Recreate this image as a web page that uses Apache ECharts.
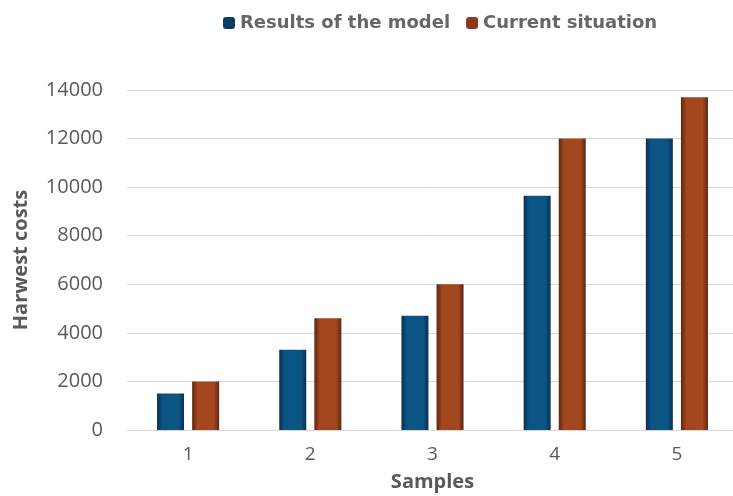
<!DOCTYPE html>
<html><head><meta charset="utf-8">
<script src="https://cdn.jsdelivr.net/npm/echarts@6/dist/echarts.min.js"></script>
<style>html,body{margin:0;padding:0;background:#fff}#c{width:733px;height:496px}</style>
</head><body><div id="c"></div>
<script>
const categories = ['1','2','3','4','5'];
const modelValues = [1500, 3300, 4700, 9650, 12000];
const currentValues = [2000, 4600, 6000, 12000, 13700];
const seriesNames = ['Results of the model', 'Current situation'];
const yTicks = {min: 0, max: 14000, interval: 2000};

function grad(edge, mid) {
  return new echarts.graphic.LinearGradient(0, 0, 1, 0, [
    {offset: 0, color: edge}, {offset: 0.2, color: mid}, {offset: 0.8, color: mid}, {offset: 1, color: edge}
  ]);
}
const font = '"Open Sans", "Noto Sans", sans-serif';
const chart = echarts.init(document.getElementById('c'));
chart.setOption({
  animation: false,
  textStyle: {fontFamily: font},
  legend: {
    top: 9, left: 218, itemWidth: 12, itemHeight: 12, itemGap: 16, itemTextGap: 4,
    textStyle: {fontSize: 18, fontWeight: 'bold', color: '#666666', fontFamily: '"DejaVu Sans", sans-serif'},
    data: [
      {name: seriesNames[0], itemStyle: {color: '#0b3d63'}},
      {name: seriesNames[1], itemStyle: {color: '#8a3a1a'}}
    ]
  },
  grid: {left: 127, right: -5, top: 90, bottom: 66, outerBoundsMode: 'none', containLabel: false},
  xAxis: {
    type: 'category', data: categories,
    name: 'Samples', nameLocation: 'middle', nameGap: 42,
    nameTextStyle: {fontSize: 20, fontWeight: 'bold', color: '#595959', fontFamily: font},
    axisLine: {lineStyle: {color: '#d9d9d9'}}, axisTick: {show: false},
    axisLabel: {fontSize: 19, color: '#595959', margin: 15, fontFamily: font}
  },
  yAxis: {
    type: 'value', min: yTicks.min, max: yTicks.max, interval: yTicks.interval,
    name: 'Harwest costs', nameLocation: 'middle', nameGap: 96,
    nameTextStyle: {fontSize: 20, fontWeight: 'bold', color: '#595959', fontFamily: font},
    axisLabel: {fontSize: 20, color: '#595959', margin: 24, fontFamily: font, formatter: v => String(v)},
    splitLine: {lineStyle: {color: '#d9d9d9'}}
  },
  series: [
    {name: seriesNames[0], type: 'bar', data: modelValues, barWidth: 27, barGap: '30%',
     itemStyle: {color: grad('#0a2f4f', '#0b5585')}},
    {name: seriesNames[1], type: 'bar', data: currentValues, barWidth: 27,
     itemStyle: {color: grad('#5e2610', '#a3471f')}}
  ]
});
</script></body></html>
